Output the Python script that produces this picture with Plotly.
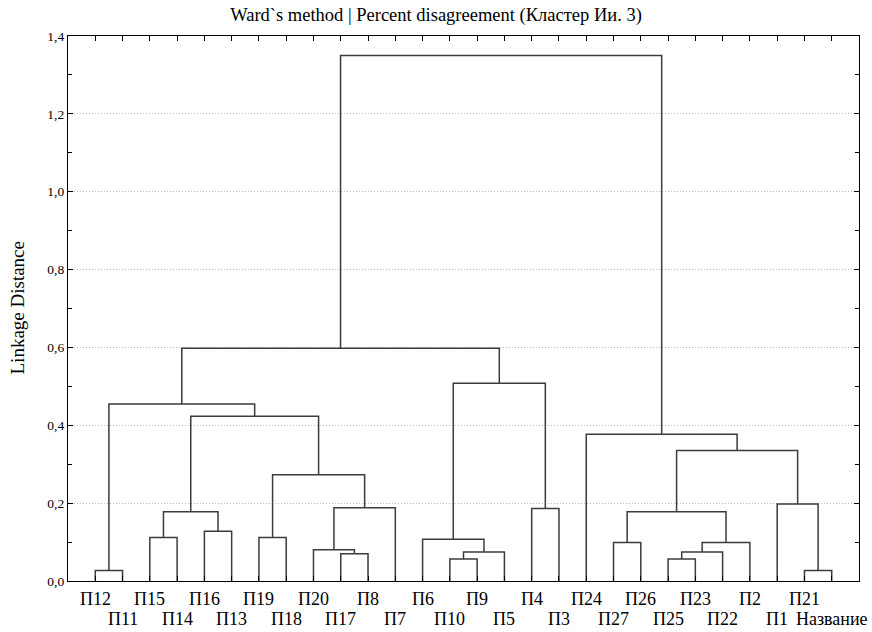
import plotly.graph_objects as go

# Leaf order (left to right)
leaves = ["П12", "П11", "П15", "П14", "П16", "П13", "П19", "П18", "П20", "П17",
          "П8", "П7", "П6", "П10", "П9", "П5", "П4", "П3", "П24", "П27",
          "П26", "П25", "П23", "П22", "П2", "П1", "П21", "Название"]

# Merges: (left child, right child, linkage distance); "mN" refers to merge N (1-based)
merge_left = ["П12", "П15", "П16", "m2", "П19", "П17", "П20", "m7", "m5", "m4",
              "m1", "П10", "m12", "П6", "П4", "m14", "m11", "П27", "П25", "m19",
              "m20", "m18", "П21", "П1", "m22", "П24", "m17"]
merge_right = ["П11", "П14", "П13", "m3", "П18", "П8", "m6", "П7", "m8", "m9",
               "m10", "П9", "П5", "m13", "П3", "m15", "m16", "П26", "П23", "П22",
               "П2", "m21", "Название", "m23", "m24", "m25", "m26"]
merge_height = [0.027, 0.112, 0.128, 0.178, 0.112, 0.070, 0.080, 0.188, 0.273, 0.423,
                0.455, 0.0565, 0.0745, 0.107, 0.186, 0.508, 0.598, 0.099, 0.0565, 0.0745,
                0.099, 0.178, 0.027, 0.198, 0.335, 0.377, 1.350]

title_text = "Ward`s method | Percent disagreement (Кластер Ии. 3)"
y_title = "Linkage Distance"

# positions of nodes
pos = {name: (i, 0.0) for i, name in enumerate(leaves)}
xs, ys = [], []
for k, (a, b, h) in enumerate(zip(merge_left, merge_right, merge_height), start=1):
    xa, ha = pos[a]
    xb, hb = pos[b]
    xs += [xa, xa, xb, xb, None]
    ys += [ha, h, h, hb, None]
    pos[f"m{k}"] = ((xa + xb) / 2, h)

fig = go.Figure()
fig.add_trace(go.Scatter(x=xs, y=ys, mode="lines",
                         line=dict(color="#3c3c3c", width=1.5),
                         hoverinfo="skip", showlegend=False))

serif = "Liberation Serif, Times New Roman, serif"
fig.update_layout(
    width=872, height=632,
    margin=dict(l=68, r=13, t=36, b=51, autoexpand=False),
    paper_bgcolor="white", plot_bgcolor="white",
    separators=", ",
    font=dict(family=serif, color="black", size=14),
    title=dict(text=title_text, x=0.5, xanchor="center", y=1 - 15 / 632,
               yanchor="middle", font=dict(family=serif, size=18.5, color="black")),
    showlegend=False,
)
fig.update_xaxes(
    range=[-1, len(leaves)], tickmode="array",
    tickvals=list(range(len(leaves))), showticklabels=False,
    automargin=False,
    ticks="inside", ticklen=5, tickcolor="black",
    showline=True, linecolor="black", linewidth=1.2, mirror="ticks",
    showgrid=False, zeroline=False,
)
fig.update_yaxes(
    range=[0, 1.4], tickmode="linear", tick0=0, dtick=0.2, tickformat=".1f",
    automargin=False,
    ticks="inside", ticklen=5, tickcolor="black",
    minor=dict(dtick=0.1, ticks="inside", ticklen=4, tickcolor="black", showgrid=False),
    showline=True, linecolor="black", linewidth=1.2, mirror="ticks",
    showgrid=True, gridcolor="#b8b8b8", griddash="1px,2px", gridwidth=1,
    zeroline=False,
    tickfont=dict(family=serif, size=13.5, color="black"),
)
# leaf labels in two staggered rows
for i, name in enumerate(leaves):
    fig.add_annotation(text=name, x=i, xref="x", y=0, yref="paper",
                       xanchor="center", yanchor="middle",
                       yshift=-18 if i % 2 == 0 else -38, showarrow=False,
                       font=dict(family=serif, size=18, color="black"))
fig.add_annotation(text=y_title, xref="paper", yref="paper", x=0, y=0.5,
                   xanchor="center", yanchor="middle", xshift=-51, textangle=-90,
                   showarrow=False, font=dict(family=serif, size=19, color="black"))

fig.write_html("out.html", config={"displayModeBar": False},
               post_script="document.body.style.margin='0px';")
